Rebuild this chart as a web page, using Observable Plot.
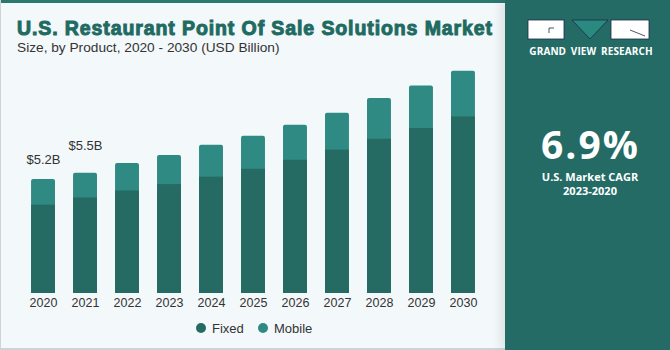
<!DOCTYPE html>
<html>
<head>
<meta charset="utf-8">
<script src="https://cdn.jsdelivr.net/npm/d3@7"></script>
<script src="https://cdn.jsdelivr.net/npm/@observablehq/plot@0.6"></script>
<style>
  html, body { margin: 0; padding: 0; }
  body { width: 670px; height: 350px; overflow: hidden; background: #f3f8fb; font-family: "Liberation Sans", Arial, sans-serif; }
  #wrap { position: relative; width: 670px; height: 350px; background: #f3f8fb; box-sizing: border-box; }
  #leftborder { position: absolute; left: 0; top: 0; width: 1px; height: 350px; background: #cfd3d6; }
  #bottomborder { position: absolute; left: 0; top: 348px; width: 505px; height: 2px; background: #cfd3d6; }
  #topband { position: absolute; left: 0; top: 0; width: 670px; height: 3px; background: #2a7870; }
  #title { position: absolute; left: 17px; top: 17px; font-size: 19.5px; font-weight: 700; color: #1f6b62; white-space: nowrap; -webkit-text-stroke: 1px #1f6b62; letter-spacing: 0.9px; }
  #subtitle { position: absolute; left: 17px; top: 40px; font-size: 13.7px; color: #333; white-space: nowrap; }
  #chart { position: absolute; left: 0; top: 50px; }
  #legend { position: absolute; top: 319px; left: 0; width: 505px; height: 18px; font-size: 13px; color: #333; }
  .lg { position: absolute; top: 0; display: flex; align-items: center; height: 18px; }
  .dot { width: 10px; height: 10px; border-radius: 50%; margin-right: 6px; }
  #panel { position: absolute; left: 505px; top: 0; width: 165px; height: 350px; background: #246b65; box-shadow: -4px 0 10px rgba(0,0,0,0.10); font-family: "Open Sans", "Liberation Sans", sans-serif; color: #fff; }
  #gvr { position: absolute; left: 0; width: 165px; top: 44px; text-align: center; font-size: 10px; font-weight: 700; letter-spacing: 0.1px; word-spacing: 2px; padding-left: 7px; box-sizing: border-box; }
  #big { position: absolute; left: 0; width: 165px; top: 124px; text-align: center; font-size: 39px; font-weight: 700; letter-spacing: 2px; line-height: 40px; padding-left: 6px; box-sizing: border-box; }
  #cagr { position: absolute; left: 0; width: 165px; top: 170px; text-align: center; font-size: 11px; font-weight: 700; line-height: 14px; padding-left: 5px; box-sizing: border-box; }
  #logo { position: absolute; left: 0; top: 0; }
</style>
</head>
<body>
<div id="wrap">
  <div id="topband"></div>
  <div id="leftborder"></div>
  <div id="bottomborder"></div>
  <div id="title"></div>
  <div id="subtitle"></div>
  <div id="chart"></div>
  <div id="legend"></div>
  <div id="panel">
    <svg id="logo" width="165" height="45">
      <rect x="23" y="20" width="36" height="19" fill="#ffffff" stroke="#1d2a4a" stroke-width="0.8"/>
      <path d="M49 28 H44 V33" fill="none" stroke="#1d2a4a" stroke-width="0.8"/>
      <path d="M67 20 H103 L85 39 Z" fill="#2b8a80" stroke="#1d2a4a" stroke-width="0.8"/>
      <rect x="106" y="20" width="38" height="19" fill="#ffffff" stroke="#1d2a4a" stroke-width="0.8"/>
      <path d="M125 30 L140 36" fill="none" stroke="#1d2a4a" stroke-width="0.8"/>
    </svg>
    <div id="gvr"></div>
    <div id="big"></div>
    <div id="cagr"></div>
  </div>
</div>
<script>
// ---- data ----
const years = ["2020","2021","2022","2023","2024","2025","2026","2027","2028","2029","2030"];
const fixedValues  = [4.03, 4.36, 4.68, 4.97, 5.31, 5.67, 6.08, 6.54, 7.04, 7.53, 8.06];
const mobileValues = [1.17, 1.13, 1.25, 1.33, 1.46, 1.51, 1.60, 1.69, 1.86, 1.94, 2.08];
const seriesNames = ["Fixed", "Mobile"];
const seriesColors = ["#256b64", "#2e8a82"];
const labelYears = ["2020", "2021"];
const labelTexts = ["$5.2B", "$5.5B"];
const titleText = "U.S. Restaurant Point Of Sale Solutions Market";
const subtitleText = "Size, by Product, 2020 - 2030 (USD Billion)";
const brandText = "GRAND VIEW RESEARCH";
const cagrValue = "6.9%";
const cagrLines = ["U.S. Market CAGR", "2023-2020"];

// ---- texts ----
document.getElementById("title").textContent = titleText;
document.getElementById("subtitle").textContent = subtitleText;
document.getElementById("gvr").textContent = brandText;
document.getElementById("big").textContent = cagrValue;
document.getElementById("cagr").innerHTML = cagrLines.join("<br>");

// ---- table ----
const rows = years.map((y, i) => ({
  year: y,
  fixed: fixedValues[i],
  total: fixedValues[i] + mobileValues[i]
}));
const labelRows = labelYears.map((y, i) => ({
  year: y,
  text: labelTexts[i],
  total: rows.find(r => r.year === y).total
}));

const chart = Plot.plot({
  width: 505,
  height: 270,
  marginLeft: 13,
  marginRight: 12,
  marginTop: 2,
  marginBottom: 27,
  style: { background: "transparent", fontFamily: "Liberation Sans, Arial, sans-serif", fontSize: "12.5px", color: "#333" },
  x: { domain: years, padding: 0.43, round: false, label: null, tickSize: 0, tickPadding: 5 },
  y: { domain: [0, 11], axis: null },
  color: { domain: seriesNames, range: seriesColors },
  marks: [
    Plot.barY(rows, { x: "year", y1: 0, y2: "total", fill: seriesColors[1], rx: 2 }),
    Plot.barY(rows, { x: "year", y1: 0, y2: "fixed", fill: seriesColors[0] }),
    Plot.text(labelRows.slice(0, 1), { x: "year", y: "total", text: "text", dy: -20, fontSize: 13, fill: "#333" }),
    Plot.text(labelRows.slice(1, 2), { x: "year", y: "total", text: "text", dy: -27, fontSize: 13, fill: "#333" })
  ]
});
document.getElementById("chart").appendChild(chart);

// ---- legend ----
const legend = document.getElementById("legend");
const legendX = [196, 258];
seriesNames.forEach((name, i) => {
  const d = document.createElement("div");
  d.className = "lg";
  d.style.left = legendX[i] + "px";
  d.innerHTML = `<span class="dot" style="background:${seriesColors[i]}"></span><span>${name}</span>`;
  legend.appendChild(d);
});
</script>
</body>
</html>
